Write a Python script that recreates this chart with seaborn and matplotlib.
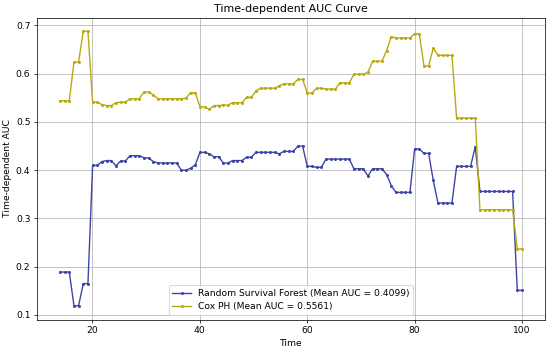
import matplotlib
matplotlib.use("Agg")
import matplotlib.pyplot as plt
import seaborn as sns
import pandas as pd

# evaluation times (100 points between 14 and 100)
times = [14.00, 14.87, 15.74, 16.61, 17.47, 18.34, 19.21, 20.08, 20.95, 21.82,
         22.69, 23.56, 24.42, 25.29, 26.16, 27.03, 27.90, 28.77, 29.64, 30.51,
         31.37, 32.24, 33.11, 33.98, 34.85, 35.72, 36.59, 37.45, 38.32, 39.19,
         40.06, 40.93, 41.80, 42.67, 43.54, 44.40, 45.27, 46.14, 47.01, 47.88,
         48.75, 49.62, 50.48, 51.35, 52.22, 53.09, 53.96, 54.83, 55.70, 56.57,
         57.43, 58.30, 59.17, 60.04, 60.91, 61.78, 62.65, 63.52, 64.38, 65.25,
         66.12, 66.99, 67.86, 68.73, 69.60, 70.46, 71.33, 72.20, 73.07, 73.94,
         74.81, 75.68, 76.55, 77.41, 78.28, 79.15, 80.02, 80.89, 81.76, 82.63,
         83.49, 84.36, 85.23, 86.10, 86.97, 87.84, 88.71, 89.58, 90.44, 91.31,
         92.18, 93.05, 93.92, 94.79, 95.66, 96.53, 97.39, 98.26, 99.13, 100.00]

rsf_auc = [0.189, 0.189, 0.189, 0.119, 0.119, 0.165, 0.165, 0.410, 0.410, 0.418,
           0.420, 0.420, 0.409, 0.419, 0.419, 0.430, 0.430, 0.430, 0.426, 0.425,
           0.418, 0.415, 0.415, 0.415, 0.415, 0.415, 0.400, 0.400, 0.404, 0.411,
           0.437, 0.437, 0.434, 0.428, 0.428, 0.415, 0.415, 0.420, 0.420, 0.420,
           0.427, 0.427, 0.437, 0.437, 0.437, 0.437, 0.437, 0.434, 0.439, 0.439,
           0.439, 0.450, 0.450, 0.408, 0.408, 0.406, 0.406, 0.423, 0.423, 0.423,
           0.423, 0.423, 0.423, 0.403, 0.403, 0.403, 0.388, 0.403, 0.403, 0.403,
           0.391, 0.368, 0.354, 0.354, 0.354, 0.354, 0.444, 0.444, 0.435, 0.435,
           0.379, 0.332, 0.332, 0.332, 0.332, 0.408, 0.408, 0.408, 0.408, 0.449,
           0.356, 0.356, 0.356, 0.356, 0.356, 0.356, 0.356, 0.356, 0.151, 0.151]

cox_auc = [0.544, 0.544, 0.544, 0.624, 0.624, 0.688, 0.688, 0.541, 0.541, 0.536,
           0.534, 0.534, 0.540, 0.541, 0.541, 0.548, 0.548, 0.548, 0.562, 0.562,
           0.556, 0.548, 0.548, 0.548, 0.548, 0.548, 0.548, 0.549, 0.561, 0.560,
           0.532, 0.531, 0.526, 0.534, 0.534, 0.535, 0.535, 0.540, 0.540, 0.540,
           0.551, 0.551, 0.564, 0.570, 0.570, 0.570, 0.570, 0.575, 0.579, 0.579,
           0.579, 0.588, 0.588, 0.560, 0.560, 0.570, 0.570, 0.568, 0.568, 0.568,
           0.581, 0.581, 0.581, 0.599, 0.599, 0.599, 0.603, 0.626, 0.626, 0.626,
           0.648, 0.677, 0.674, 0.674, 0.674, 0.674, 0.683, 0.683, 0.616, 0.616,
           0.653, 0.638, 0.638, 0.638, 0.638, 0.508, 0.508, 0.508, 0.508, 0.508,
           0.318, 0.318, 0.318, 0.318, 0.318, 0.318, 0.318, 0.318, 0.237, 0.237]

rsf_label = "Random Survival Forest (Mean AUC = 0.4099)"
cox_label = "Cox PH (Mean AUC = 0.5561)"

df = pd.DataFrame({"Time": times, "RSF": rsf_auc, "Cox": cox_auc})

fig, ax = plt.subplots(figsize=(550 / 66, 350 / 66), dpi=66)
fig.subplots_adjust(left=0.067, right=0.991, bottom=0.087, top=0.95)

sns.lineplot(data=df, x="Time", y="RSF", marker="o", markersize=3.3,
             markeredgewidth=0, color="#3b44a6", label=rsf_label, ax=ax)
sns.lineplot(data=df, x="Time", y="Cox", marker="o", markersize=3.3,
             markeredgewidth=0, color="#b9a90f", label=cox_label, ax=ax)

ax.set_title("Time-dependent AUC Curve", fontsize=12)
ax.set_xlabel("Time")
ax.set_ylabel("Time-dependent AUC")
ax.grid(True)
ax.legend(loc="lower center")

plt.savefig("out.png", dpi=66)
